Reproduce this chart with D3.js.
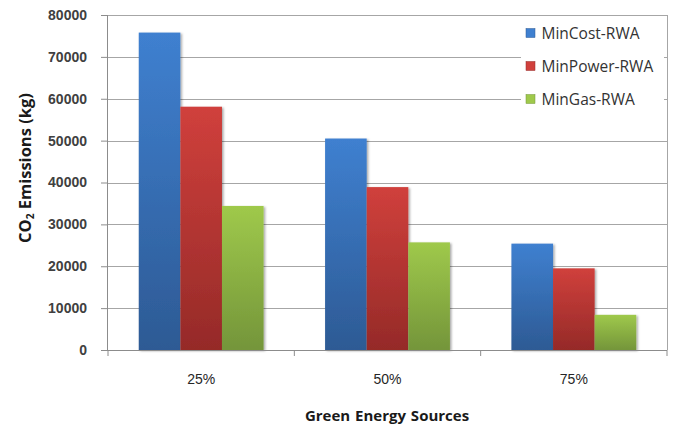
<!DOCTYPE html>
<html>
<head>
<meta charset="utf-8">
<script src="https://cdn.jsdelivr.net/npm/d3@7"></script>
<style>
  html, body { margin: 0; padding: 0; background: #fff; }
  svg { display: block; font-family: "Open Sans", Lato, "Liberation Sans", sans-serif; }
</style>
</head>
<body>
<svg id="chart" width="676" height="426"></svg>
<script>
// Emissions per routing strategy at each green-energy share
const categories = ["25%", "50%", "75%"];
const seriesNames = ["MinCost-RWA", "MinPower-RWA", "MinGas-RWA"];
const minCost = [75800, 50500, 25400];
const minPower = [58100, 38900, 19500];
const minGas = [34400, 25700, 8400];
const yTicks = [0, 10000, 20000, 30000, 40000, 50000, 60000, 70000, 80000];

const seriesValues = [minCost, minPower, minGas];
const palette = [
  { top: "#3f80d0", bottom: "#2d5a94" },
  { top: "#d0403c", bottom: "#952a28" },
  { top: "#9fc94b", bottom: "#74953a" }
];

const svg = d3.select("#chart");
const margin = { left: 108, right: 9, top: 15, bottom: 76 };
const W = 676, H = 426;
const plotW = W - margin.left - margin.right;
const plotH = H - margin.top - margin.bottom;

const defs = svg.append("defs");
palette.forEach((c, i) => {
  const g = defs.append("linearGradient")
    .attr("id", "grad" + i).attr("x1", 0).attr("y1", 0).attr("x2", 0).attr("y2", 1);
  g.append("stop").attr("offset", "0%").attr("stop-color", c.top);
  g.append("stop").attr("offset", "100%").attr("stop-color", c.bottom);
});
const shadow = defs.append("filter").attr("id", "shadow")
  .attr("x", "-20%").attr("y", "-5%").attr("width", "150%").attr("height", "115%");
shadow.append("feDropShadow").attr("dx", 1.5).attr("dy", 1)
  .attr("stdDeviation", 1.2).attr("flood-color", "#000").attr("flood-opacity", 0.35);

const g = svg.append("g").attr("transform", `translate(${margin.left},${margin.top})`);

const x = d3.scaleBand().domain(categories).range([0, plotW]).paddingInner(0.33).paddingOuter(0.165);
const xBand = d3.scaleBand().domain(categories).range([0, plotW]);
const xSub = d3.scaleBand().domain(seriesNames).range([0, x.bandwidth()]);
const y = d3.scaleLinear().domain([0, 80000]).range([plotH, 0]);

// horizontal gridlines
g.append("g").selectAll("line").data(yTicks).join("line")
  .attr("x1", 0).attr("x2", plotW)
  .attr("y1", d => Math.round(y(d)) + 0.5).attr("y2", d => Math.round(y(d)) + 0.5)
  .attr("stroke", "#a6a6a6").attr("stroke-width", 1);

// right edge of plot area
g.append("line").attr("x1", plotW + 0.5).attr("x2", plotW + 0.5)
  .attr("y1", 0).attr("y2", plotH).attr("stroke", "#a6a6a6");

// bars
const groups = g.append("g").selectAll("g").data(categories).join("g")
  .attr("transform", d => `translate(${x(d)},0)`);
groups.selectAll("rect")
  .data((c, ci) => seriesNames.map((s, si) => ({ s, si, v: seriesValues[si][ci] })))
  .join("rect")
  .attr("x", d => xSub(d.s))
  .attr("width", xSub.bandwidth())
  .attr("y", d => y(d.v))
  .attr("height", d => plotH - y(d.v))
  .attr("fill", d => `url(#grad${d.si})`)
  .attr("filter", "url(#shadow)");

// y axis
const yAxis = g.append("g")
  .call(d3.axisLeft(y).tickValues(yTicks).tickSize(7).tickPadding(14).tickFormat(d3.format("d")));
yAxis.select(".domain").attr("stroke", "#8c8c8c").attr("d", `M-0.5,0V${plotH}`);
yAxis.selectAll(".tick line").attr("stroke", "#8c8c8c");
yAxis.selectAll("text").attr("fill", "#404040").attr("font-size", 14).attr("font-weight", 600);

// x axis
const xAxis = g.append("g").attr("transform", `translate(0,${plotH})`)
  .call(d3.axisBottom(xBand).tickSize(0).tickPadding(24));
xAxis.select(".domain").attr("stroke", "#8c8c8c").attr("d", `M0,0.5H${plotW}`);
xAxis.selectAll("text").attr("fill", "#262626").attr("font-size", 14);
// category boundary ticks
g.append("g").selectAll("line")
  .data(categories.map(c => xBand(c)).concat([plotW]))
  .join("line")
  .attr("x1", d => d).attr("x2", d => d)
  .attr("y1", plotH).attr("y2", plotH + 6)
  .attr("stroke", "#8c8c8c");

// axis titles
const yTitle = svg.append("text")
  .attr("transform", `translate(31,168) rotate(-90)`)
  .attr("text-anchor", "middle").attr("font-size", 16.5).attr("font-weight", "bold")
  .attr("fill", "#1a1a1a");
yTitle.append("tspan").text("CO");
yTitle.append("tspan").text("2").attr("font-size", 10).attr("dy", 3);
yTitle.append("tspan").text(" Emissions (kg)").attr("dy", -3);

svg.append("text")
  .attr("x", 387).attr("y", 421)
  .attr("text-anchor", "middle").attr("font-size", 15).attr("font-weight", "bold")
  .attr("fill", "#1a1a1a")
  .attr("word-spacing", 1)
  .text("Green Energy Sources");

// legend
const legend = svg.append("g");
legend.append("rect").attr("x", 521).attr("y", 16).attr("width", 143).attr("height", 96).attr("fill", "#fff");
const li = legend.selectAll("g").data(seriesNames).join("g")
  .attr("transform", (d, i) => `translate(526,${33 + i * 33})`);
li.append("rect").attr("x", 0).attr("y", -4.5).attr("width", 9).attr("height", 9)
  .attr("fill", (d, i) => palette[i].top).attr("stroke", (d, i) => palette[i].bottom).attr("stroke-width", 0.5);
li.append("text").attr("x", 15.5).attr("y", 0).attr("dy", "0.36em")
  .attr("font-size", 15.5).attr("fill", "#333").text(d => d);
</script>
</body>
</html>
